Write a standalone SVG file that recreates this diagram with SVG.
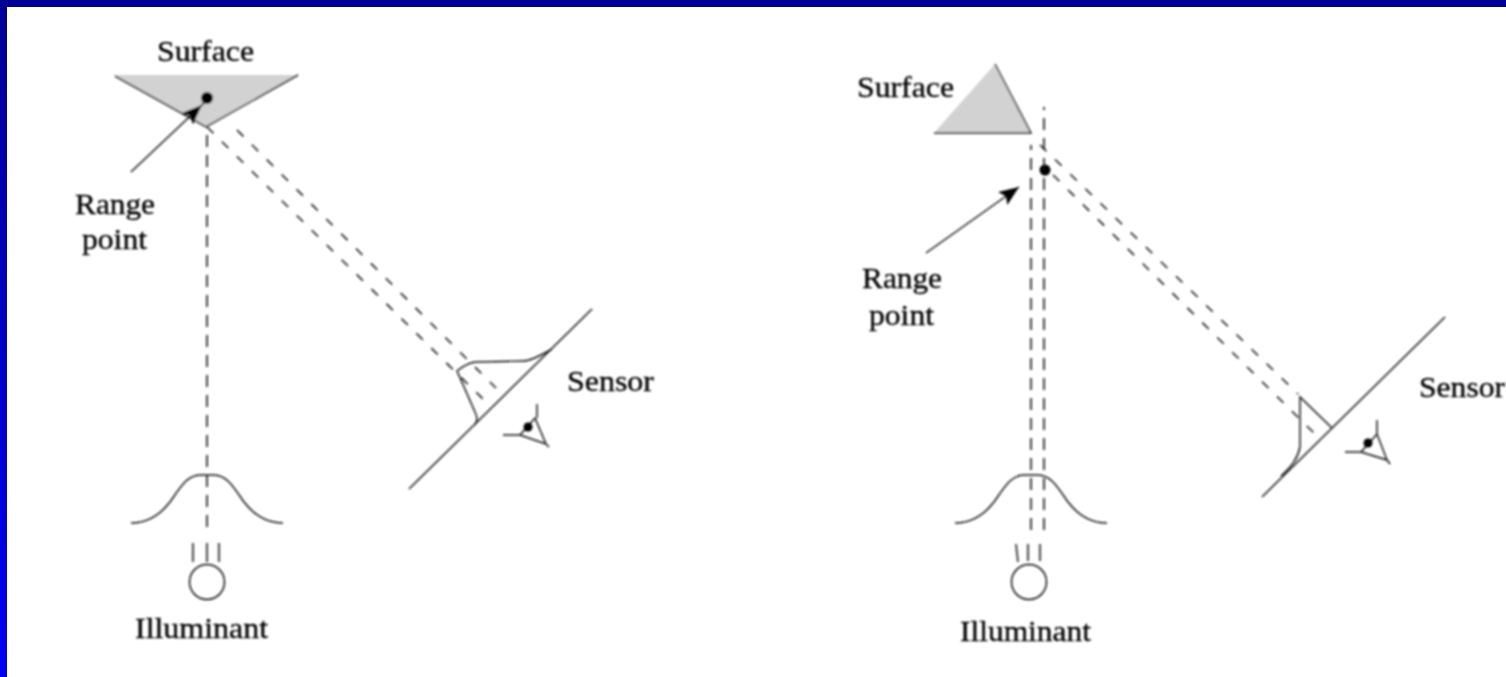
<svg xmlns="http://www.w3.org/2000/svg" width="1506" height="677" viewBox="0 0 1506 677">
<defs>
<linearGradient id="side" x1="0" y1="0" x2="0" y2="1"><stop offset="0" stop-color="#000096"/><stop offset="1" stop-color="#0000f5"/></linearGradient>
<filter id="soft" filterUnits="userSpaceOnUse" x="0" y="0" width="1506" height="677"><feGaussianBlur stdDeviation="1.05"/></filter>
<marker id="head" markerUnits="userSpaceOnUse" markerWidth="24" markerHeight="18" refX="20" refY="8" orient="auto"><path d="M0 0L20 8L0 16L4 8Z" fill="#000"/></marker>
</defs>
<style>
.ln{fill:none;stroke:#111;stroke-width:1.45}
.da{fill:none;stroke:#111;stroke-width:1.6;stroke-dasharray:12 8}
.dg{fill:none;stroke:#111;stroke-width:1.5;stroke-dasharray:9 12}
.tk{fill:none;stroke:#555;stroke-width:2.2}
.sf{fill:#d2d2d2;stroke:none}
.t{font-family:"Liberation Serif","Times New Roman",serif;font-size:30px;fill:#000;stroke:#000;stroke-width:.35}
</style>
<rect width="1506" height="677" fill="#fff"/>
<g filter="url(#soft)">
<g id="surface-left">
<path class="sf" d="M115 75H298L206 127Z"/>
<path class="ln" d="M115 76L206 127L298 75"/>
<circle cx="207" cy="98" r="6" fill="#000"/>
<text class="t" x="157" y="61" textLength="97" lengthAdjust="spacingAndGlyphs">Surface</text>
</g>
<g id="range-left"><text class="t" x="75" y="214" textLength="80" lengthAdjust="spacingAndGlyphs">Range</text><text class="t" x="82" y="249" textLength="65" lengthAdjust="spacingAndGlyphs">point</text></g>
<g id="sensor-left">
<path class="ln" d="M409 489L592 309"/>
<path class="ln" d="M552 349C540 356 530 361 523 361L475 362C468 363 462 367 457 371L475 412C478 418 477 421 475 425"/>
<text class="t" x="567" y="391" textLength="87" lengthAdjust="spacingAndGlyphs">Sensor</text>
</g>
<g id="eye-left">
<path class="ln" d="M537 404V418M503 435H520L546 444L535 418L520 435M546 444L549 447"/>
<circle cx="528" cy="427" r="4.5" fill="#000"/>
</g>
<g id="illuminant-left">
<path class="ln" d="M131 523C147 523 160 515 170 502C180 488 187 475 200 475H214C227 475 234 488 244 502C254 515 267 523 283 523"/>
<path class="tk" d="M193 543V562M207 543V562M219 543V562"/>
<circle class="ln" cx="207" cy="582" r="17.5"/>
<text class="t" x="135" y="638" textLength="133" lengthAdjust="spacingAndGlyphs">Illuminant</text>
</g>
<g id="surface-right">
<path class="sf" d="M995 64L1031 133H934Z"/>
<path class="ln" d="M995 64L1031 133H934"/>
<text class="t" x="857" y="97" textLength="97" lengthAdjust="spacingAndGlyphs">Surface</text>
</g>
<circle cx="1045" cy="170" r="5.5" fill="#000"/>
<g id="range-right"><text class="t" x="862" y="288" textLength="80" lengthAdjust="spacingAndGlyphs">Range</text><text class="t" x="869" y="325" textLength="65" lengthAdjust="spacingAndGlyphs">point</text></g>
<g id="sensor-right">
<path class="ln" d="M1262 497L1445 317"/>
<path class="ln" d="M1332 428L1300 397V447C1298 458 1292 466 1281 476"/>
<text class="t" x="1419" y="397" textLength="86" lengthAdjust="spacingAndGlyphs">Sensor</text>
</g>
<g id="eye-right">
<path class="ln" d="M1377 420V434M1345 452H1361L1387 460L1377 434L1361 452M1387 460L1390 464"/>
<circle cx="1368" cy="443" r="4.5" fill="#000"/>
</g>
<g id="illuminant-right">
<path class="ln" d="M955 523C971 523 984 515 994 502C1004 488 1011 475 1024 475H1038C1051 475 1058 488 1068 502C1078 515 1091 523 1107 523"/>
<path class="tk" d="M1016 544L1018 562M1028 544V561M1040 544V561"/>
<circle class="ln" cx="1029" cy="582" r="17.5"/>
<text class="t" x="960" y="641" textLength="131" lengthAdjust="spacingAndGlyphs">Illuminant</text>
</g>
<g id="connectors">
<path class="da" d="M207 527V128"/>
<path class="dg" d="M207 127L484 400"/>
<path class="dg" d="M237 130L496 388"/>
<path class="ln" d="M131 172L202 105" marker-end="url(#head)"/>
<path class="ln" d="M202 105L207 99"/>
<path class="da" d="M1031 530V145"/>
<path class="da" d="M1044 530V107"/>
<path class="dg" d="M1040 145L1298 394"/>
<path class="dg" d="M1053 175L1319 438"/>
<path class="ln" d="M926 253L1019 187" marker-end="url(#head)"/>
</g>
</g>
<g id="frame">
<rect width="1506" height="7" fill="#000096"/>
<rect width="7" height="677" fill="url(#side)"/>
</g>
</svg>
